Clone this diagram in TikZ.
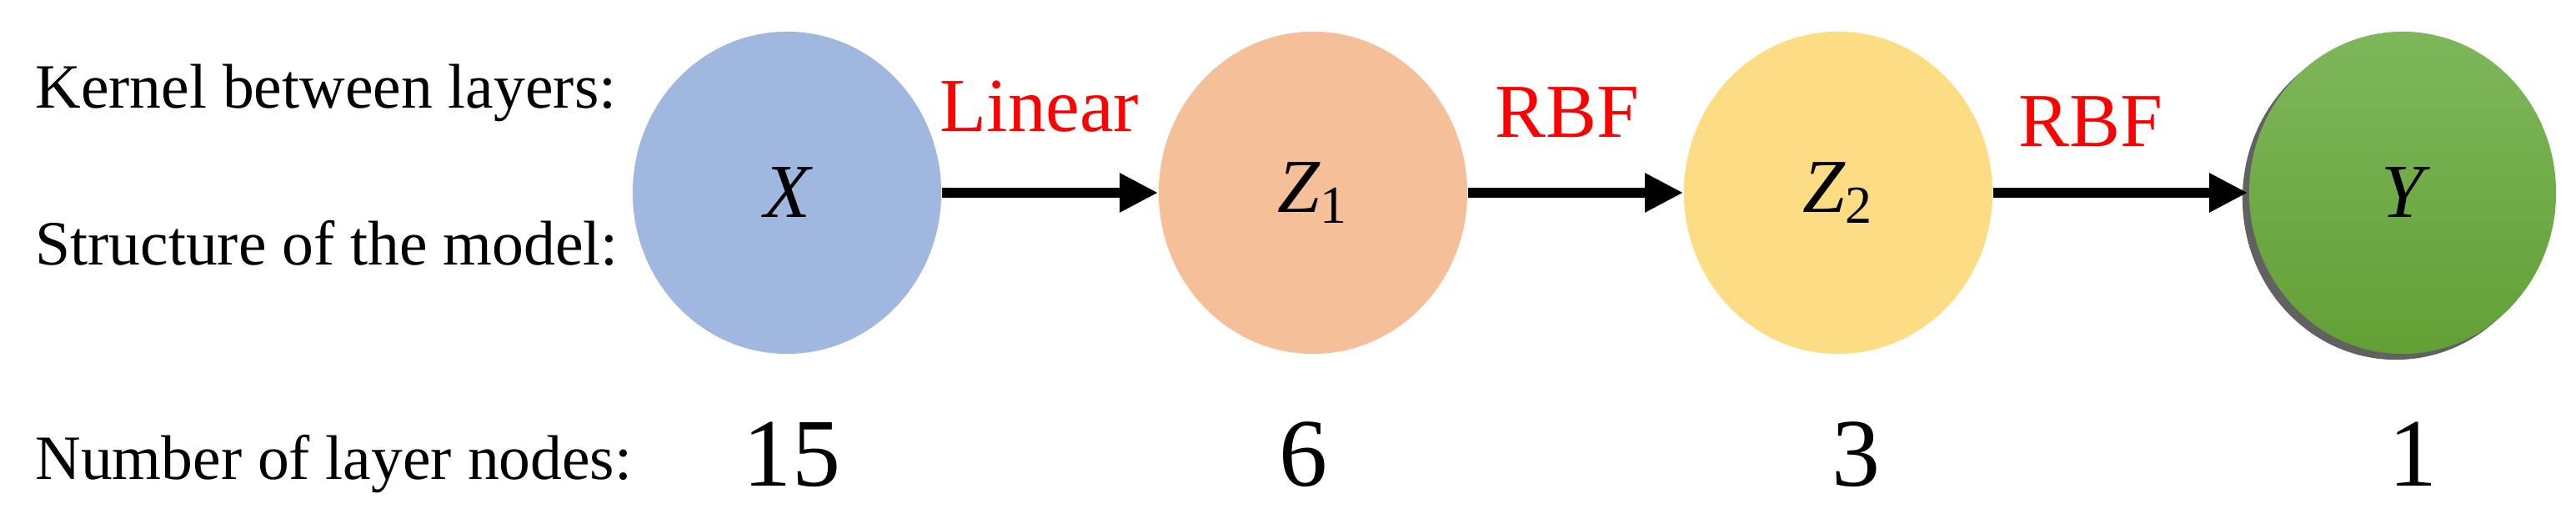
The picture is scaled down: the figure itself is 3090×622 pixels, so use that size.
\documentclass[tikz,border=0pt]{standalone}
\usepackage{fontspec}
\setmainfont{Liberation Serif}
\usetikzlibrary{shapes.geometric,arrows.meta}
\definecolor{cX}{HTML}{A0B7E0}
\definecolor{cZa}{HTML}{F5BF99}
\definecolor{cZb}{HTML}{FDDD84}
\definecolor{cYt}{HTML}{7EB75B}
\definecolor{cYb}{HTML}{62A035}
\definecolor{red0}{HTML}{FF0000}
\begin{document}
\begin{tikzpicture}[x=0.01cm,y=-0.01cm,
  lay/.style={ellipse,minimum width=3.7cm,minimum height=3.86cm,inner sep=0pt,font=\fontsize{26}{30}\selectfont\itshape},
  arr/.style={line width=12\pgflinewidth/12*0.34mm*12/4, -{Triangle[length=0.46cm,width=0.44cm]}},
  ker/.style={text=red0,font=\fontsize{26}{30}\selectfont,anchor=base},
  num/.style={font=\fontsize{33}{38}\selectfont,anchor=base},
  lab/.style={font=\fontsize{21.5}{26}\selectfont,anchor=base west}]
\useasboundingbox (0,0) rectangle (3090,622);
\node[lay,fill=cX] (X) at (944,231) {X};
\node[lay,fill=cZa] (Z1) at (1575,231) {Z\textsubscript{\upshape 1}};
\node[lay,fill=cZb] (Z2) at (2205,231) {Z\textsubscript{\upshape 2}};
\fill[black!62] (2874,238) ellipse (1.84cm and 1.93cm);
\shade[top color=cYt,bottom color=cYb] (2882,231) ellipse (1.84cm and 1.93cm);
\node[lay] (Y) at (2882,231) {Y};
\draw[line width=0.34cm/3, -{Triangle[length=0.46cm,width=0.44cm]}] (X) -- (Z1);
\draw[line width=0.34cm/3, -{Triangle[length=0.46cm,width=0.44cm]}] (Z1) -- (Z2);
\draw[line width=0.34cm/3, -{Triangle[length=0.46cm,width=0.44cm]}] (Z2) -- (Y);
\node[ker] (k1) at (1247,158) {Linear};
\node[ker] (k2) at (1880,165) {RBF};
\node[ker] (k3) at (2508,176) {RBF};
\node[lab] (l1) at (30,130) {Kernel between layers:};
\node[lab] (l2) at (30,318) {Structure of the model:};
\node[lab] (l3) at (30,575) {Number of layer nodes:};
\node[num] (n1) at (950,583) {15};
\node[num] (n2) at (1563,583) {6};
\node[num] (n3) at (2226,583) {3};
\node[num] (n4) at (2894,583) {1};
\end{tikzpicture}
\end{document}
